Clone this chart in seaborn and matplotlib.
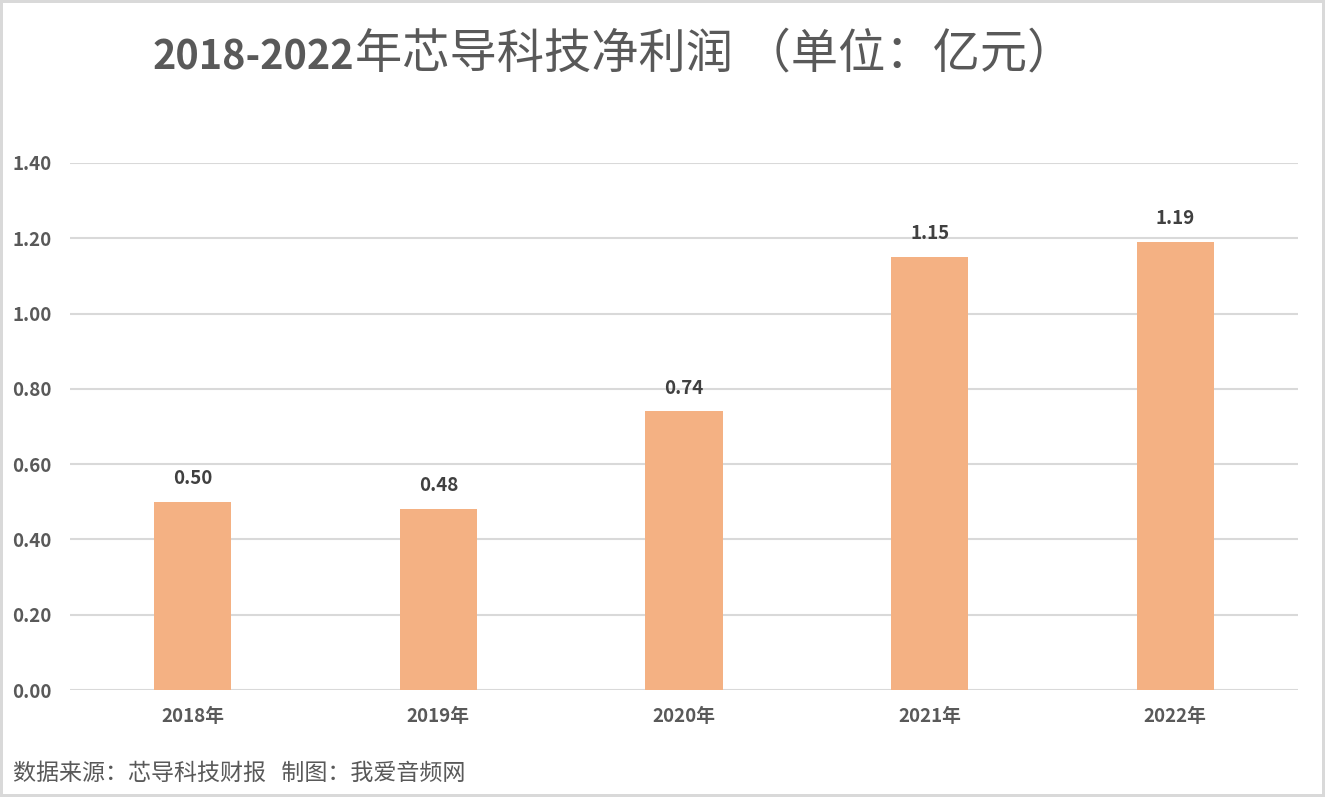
import matplotlib
matplotlib.use("Agg")
import matplotlib.pyplot as plt
import pandas as pd
import seaborn as sns

years = ["2018年", "2019年", "2020年", "2021年", "2022年"]
profit = [0.50, 0.48, 0.74, 1.15, 1.19]
yticks = [0.0, 0.2, 0.4, 0.6, 0.8, 1.0, 1.2, 1.4]

df = pd.DataFrame({"year": years, "profit": profit})

sns.set_theme(style="white")
plt.rcParams["font.family"] = ["Noto Sans CJK SC", "DejaVu Sans"]

fig = plt.figure(figsize=(13.25, 7.97), dpi=100)
fig.patch.set_edgecolor("#D9D9D9")
fig.patch.set_linewidth(3)
ax = fig.add_axes([70 / 1325, 1 - 690 / 797, 1228 / 1325, 527 / 797])

sns.barplot(data=df, x="year", y="profit", color="#F4B183", width=0.314,
            saturation=1, linewidth=0, ax=ax, zorder=3)

ax.set_xlim(-0.5, 4.5)
ax.set_ylim(0, 1.4)
ax.set_yticks(yticks)
ax.set_yticklabels([f"{v:.2f}" for v in yticks])
ax.yaxis.grid(True, color="#D9D9D9", linewidth=1.5, zorder=0)
ax.set_axisbelow(True)
for s in ax.spines.values():
    s.set_visible(False)
ax.tick_params(axis="both", length=0, labelsize=13.5, labelcolor="#595959")
ax.tick_params(axis="y", pad=13)
ax.tick_params(axis="x", pad=12)
for lab in ax.get_xticklabels() + ax.get_yticklabels():
    lab.set_fontweight("bold")
ax.set_xlabel("")
ax.set_ylabel("")

for i, v in enumerate(profit):
    ax.annotate(f"{v:.2f}", xy=(i, v), xytext=(0, 10), textcoords="offset points",
                ha="center", va="bottom", fontsize=13.5, fontweight="bold", color="#404040")

t1 = fig.text(153 / 1325, 1 - 58 / 797, "2018-2022", fontsize=28.5, fontweight="bold",
              color="#595959", ha="left", va="center")
ax.annotate("年芯导科技净利润 （单位：亿元）", xy=(1, 0), xycoords=t1, ha="left", va="bottom",
            fontsize=34, color="#595959")

fig.text(13 / 1325, 1 - 773 / 797, "数据来源：芯导科技财报   制图：我爱音频网", fontsize=16.6,
         color="#595959", ha="left", va="center")

fig.savefig("out.png", dpi=100, edgecolor=fig.get_edgecolor())
